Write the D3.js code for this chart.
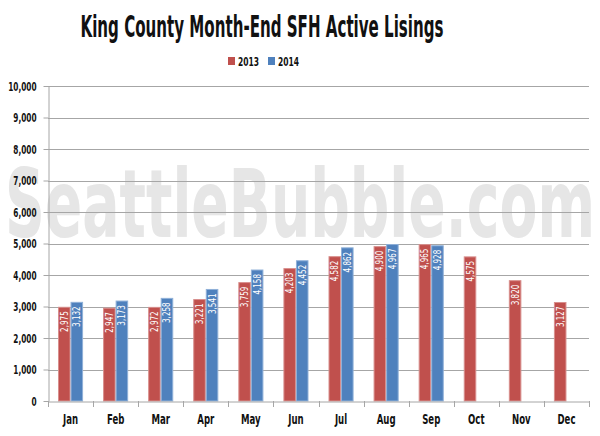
<!DOCTYPE html>
<html><head><meta charset="utf-8">
<script src="https://cdn.jsdelivr.net/npm/d3@7/dist/d3.min.js"></script>
<style>body{margin:0;background:#fff}svg{display:block}</style>
</head><body><svg id="c" width="600" height="436"></svg>
<script>
const months = ["Jan","Feb","Mar","Apr","May","Jun","Jul","Aug","Sep","Oct","Nov","Dec"];
const series = ["2013","2014"];
const values2013 = [2975,2947,2972,3221,3759,4203,4582,4900,4965,4575,3820,3127];
const values2014 = [3132,3173,3258,3541,4158,4452,4862,4967,4928,null,null,null];
const yTicks = [0,1000,2000,3000,4000,5000,6000,7000,8000,9000,10000];
const colors = ["#c0504d","#4f81bd"];
const strokes = ["#d88f8d","#8fb0d8"];

const FONT = "'DejaVu Sans Condensed','DejaVu Sans',sans-serif";
const svg = d3.select("#c");
const L = 48, R = 589, T = 86, B = 401;

function squeeze(sel, f) {
  sel.each(function() {
    const w = this.getComputedTextLength();
    d3.select(this).attr("textLength", w * f).attr("lengthAdjust", "spacingAndGlyphs");
  });
}

const x = d3.scaleBand().domain(months).range([L, R]).paddingInner(0).paddingOuter(0);
const x1 = d3.scaleBand().domain(series).range([10, x.bandwidth()-10]).padding(0);
const y = d3.scaleLinear().domain([0, 10000]).range([B, T]);

// watermark
svg.append("text").attr("x", 5).attr("y", 237)
  .attr("textLength", 590).attr("lengthAdjust", "spacingAndGlyphs")
  .style("font-family", FONT).style("font-weight", "bold").style("font-size", "94px")
  .attr("fill", "#e6e6e6").text("SeattleBubble.com");

// gridlines
svg.append("g").selectAll("line").data(yTicks.filter(d => d > 0)).join("line")
  .attr("x1", L).attr("x2", R).attr("y1", d => Math.round(y(d)) + 0.5).attr("y2", d => Math.round(y(d)) + 0.5)
  .attr("stroke", "#a6a6a6").attr("stroke-width", 1);

// y axis
const yAxis = svg.append("g").attr("transform", `translate(${L + 0.5},0)`)
  .call(d3.axisLeft(y).tickValues(yTicks).tickSize(5).tickSizeOuter(0).tickPadding(7).tickFormat(d3.format(",")));
yAxis.select(".domain").attr("stroke", "#a6a6a6");
yAxis.selectAll(".tick line").attr("stroke", "#a6a6a6");
yAxis.selectAll("text").style("font-family", FONT).style("font-weight", "bold").style("font-size", "12px").attr("fill", "#111")
  .attr("dy", "0.35em");
squeeze(yAxis.selectAll("text"), 0.68);

// bars
const data = months.map((m, i) => ({m, vals: [values2013[i], values2014[i]]}));
const groups = svg.append("g").selectAll("g").data(data).join("g")
  .attr("transform", d => `translate(${x(d.m)},0)`);
groups.selectAll("rect").data(d => series.map((s, j) => ({s, j, v: d.vals[j]})).filter(e => e.v != null)).join("rect")
  .attr("x", e => x1(e.s) + 0.5).attr("width", x1.bandwidth() - 1)
  .attr("y", e => y(e.v)).attr("height", e => B - y(e.v))
  .attr("fill", e => colors[e.j]).attr("stroke", e => strokes[e.j]).attr("stroke-width", 1);
const bl = groups.selectAll("text").data(d => series.map((s, j) => ({s, j, v: d.vals[j]})).filter(e => e.v != null)).join("text")
  .attr("transform", e => `translate(${x1(e.s) + x1.bandwidth()/2 + 3.5},${y(e.v) + 4}) rotate(-90)`)
  .attr("text-anchor", "end")
  .style("font-family", FONT).style("font-size", "10px").attr("fill", "#fff")
  .text(e => d3.format(",")(e.v));
squeeze(bl, 0.8);

// x axis
const xAxis = svg.append("g").attr("transform", `translate(0,${B + 0.5})`)
  .call(d3.axisBottom(x).tickSize(0).tickPadding(13));
xAxis.select(".domain").attr("stroke", "#a6a6a6");
xAxis.selectAll("text").style("font-family", FONT).style("font-weight", "bold").style("font-size", "14px").attr("fill", "#111");
squeeze(xAxis.selectAll("text"), 0.68);
svg.append("g").selectAll("line").data(d3.range(13)).join("line")
  .attr("x1", i => Math.round(L + i * x.bandwidth()) + 0.5).attr("x2", i => Math.round(L + i * x.bandwidth()) + 0.5)
  .attr("y1", B).attr("y2", B + 6).attr("stroke", "#a6a6a6");

// title
svg.append("text").attr("x", 262).attr("y", 37).attr("text-anchor", "middle")
  .attr("textLength", 363).attr("lengthAdjust", "spacingAndGlyphs")
  .style("font-family", FONT).style("font-size", "30px").style("font-weight", "bold").attr("fill", "#111")
  .text("King County Month-End SFH Active Lisings");

// legend
const leg = svg.append("g");
const legX = [228, 268];
series.forEach((s, j) => {
  leg.append("rect").attr("x", legX[j]).attr("y", 57).attr("width", 7).attr("height", 8).attr("fill", colors[j]);
  leg.append("text").attr("x", legX[j] + 10).attr("y", 65.5).attr("textLength", 21).attr("lengthAdjust", "spacingAndGlyphs")
    .style("font-family", FONT).style("font-weight", "bold").style("font-size", "12px").attr("fill", "#111").text(s);
});
</script></body></html>
